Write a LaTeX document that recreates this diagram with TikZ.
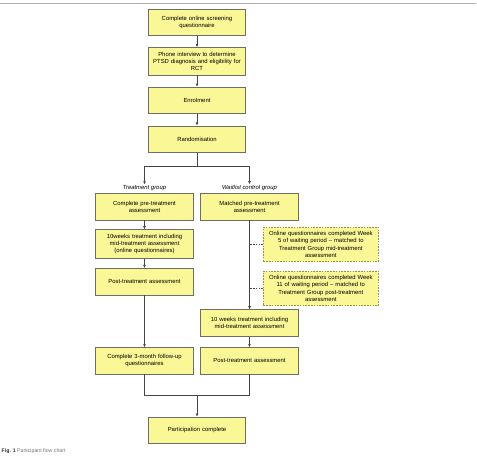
\documentclass[tikz,border=0pt]{standalone}
\usepackage{fontspec}
\setmainfont{Liberation Sans}
\usepackage{xcolor}
\usetikzlibrary{calc,arrows.meta}
\usetikzlibrary{positioning}
\definecolor{boxfill}{RGB}{250,247,150}
\definecolor{boxline}{RGB}{110,110,100}
\definecolor{dashline}{RGB}{150,145,80}
\definecolor{flowline}{RGB}{70,70,70}
\newcommand{\nohyph}{\hyphenpenalty=10000\exhyphenpenalty=10000\relax}

\begin{document}
\begin{tikzpicture}[x=1pt,y=-1pt,
  box/.style={draw=boxline, line width=0.7pt, fill=boxfill, text width=89pt, inner sep=4.2pt,
    minimum height=26.5pt, align=center,
    font=\fontsize{5.9}{7.3}\selectfont\nohyph},
  notebox/.style={box, draw=dashline, dashed, dash pattern=on 1.6pt off 1.2pt, text width=106.5pt, minimum height=32pt},
  grouplabel/.style={inner sep=1pt, font=\fontsize{5.9}{7}\selectfont\itshape},
  arr/.style={draw=flowline, line width=0.6pt, -{Latex[length=3.2pt,width=2.8pt]}},
  lin/.style={draw=flowline, line width=0.6pt}]
\useasboundingbox (0,0) rectangle (477,456);
\draw[gray!60, line width=0.9pt] (0,3) -- (476,3);
% main column
\node[box](scr) at (197,22.3){Complete online screening\\questionnaire};
\node[box](phone) at (197,61.3){Phone interview to determine\\PTSD diagnosis and eligibility for\\RCT};
\node[box](enrol) at (197,100.3){Enrolment};
\node[box](rand) at (197,139.2){Randomisation};
\node[box](done) at (197,430.3){Participation complete};
% treatment group
\node[grouplabel](tg) at (144.5,188.3){Treatment group};
\node[box](tpre) at (144.5,206.7){Complete pre-treatment\\assessment};
\node[box](tmid) at (144.5,244){10weeks treatment including\\mid-treatment assessment\\(online questionnaires)};
\node[box](tpost) at (144.5,281.7){Post-treatment assessment};
\node[box](tfol) at (144.5,360.8){Complete 3-month follow-up\\questionnaires};
% waitlist group
\node[grouplabel](wg) at (249.5,188.3){Waitlist control group};
\node[box](wpre) at (249.5,206.7){Matched pre-treatment\\assessment};
\node[notebox](wmid) at (320.8,244.5){Online questionnaires completed Week\\5 of waiting period -- matched to\\Treatment Group mid-treatment\\assessment};
\node[notebox](wend) at (320.8,288.3){Online questionnaires completed Week\\11 of waiting period -- matched to\\Treatment Group post-treatment\\assessment};
\node[box](wtreat) at (249.5,323){10 weeks treatment including\\mid-treatment assessment};
\node[box](wpost) at (249.5,360.8){Post-treatment assessment};
\coordinate (split) at (197,166.7);
\coordinate (merge) at (197,395.7);
\draw[arr] (scr) -- (phone);
\draw[arr] (phone) -- (enrol);
\draw[arr] (enrol) -- (rand);
\draw[lin] (rand) -- (split);
\draw[arr] (split) -| (tg);
\draw[arr] (split) -| (wg);
\draw[arr] (tpre) -- (tmid);
\draw[arr] (tmid) -- (tpost);
\draw[arr] (tpost) -- (tfol);
\draw[arr] (wpre) -- (wtreat);
\draw[lin, dashed, dash pattern=on 1.6pt off 1.2pt] (wmid.west) -- (wmid.west -| wpre.south);
\draw[lin, dashed, dash pattern=on 1.6pt off 1.2pt] (wend.west) -- (wend.west -| wpre.south);
\draw[arr] (wtreat) -- (wpost);
\draw[lin] (tfol) |- (merge) -| (wpost);
\draw[arr] (merge) -- (done);
% caption
\node[anchor=base west, inner sep=0pt, font=\fontsize{5.2}{6}\selectfont](cap) at (1.5,452.5)
  {\textbf{\color{black!80}Fig. 1} \color{black!55}Participant flow chart};
\end{tikzpicture}
\end{document}
